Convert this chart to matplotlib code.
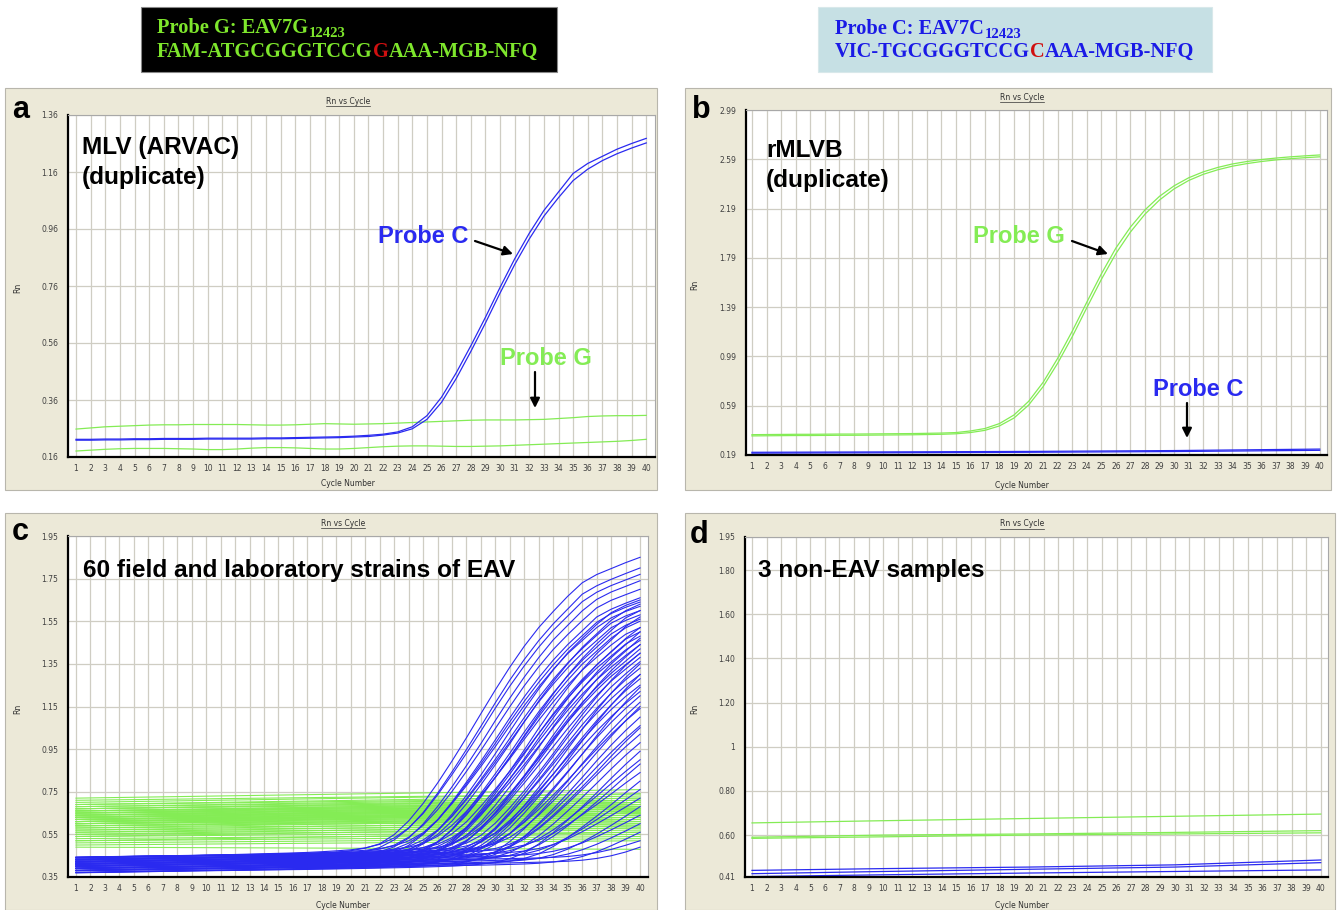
import numpy as np
import matplotlib.pyplot as plt
from matplotlib.patches import Rectangle

# 画布像素尺寸
W, H = 1341, 910
cycles = np.arange(1, 41)

# ---------------- 面板 a: MLV (ARVAC) ----------------
a_probeC_1 = [0.222, 0.222, 0.223, 0.223, 0.224, 0.224, 0.225, 0.225, 0.225, 0.226,
              0.226, 0.226, 0.226, 0.227, 0.227, 0.228, 0.229, 0.230, 0.231, 0.233,
              0.236, 0.240, 0.248, 0.266, 0.305, 0.370, 0.455, 0.550, 0.650, 0.755,
              0.855, 0.945, 1.025, 1.090, 1.155, 1.190, 1.215, 1.240, 1.260, 1.278]
a_probeC_2 = [0.219, 0.219, 0.220, 0.220, 0.221, 0.221, 0.222, 0.222, 0.222, 0.223,
              0.223, 0.223, 0.223, 0.224, 0.224, 0.225, 0.226, 0.227, 0.228, 0.230,
              0.232, 0.237, 0.244, 0.259, 0.292, 0.352, 0.435, 0.530, 0.630, 0.735,
              0.835, 0.925, 1.005, 1.070, 1.130, 1.170, 1.200, 1.224, 1.244, 1.262]
a_probeG_1 = [0.258, 0.262, 0.266, 0.268, 0.270, 0.272, 0.273, 0.273, 0.274, 0.274,
              0.274, 0.274, 0.273, 0.272, 0.272, 0.273, 0.275, 0.277, 0.276, 0.275,
              0.276, 0.277, 0.279, 0.281, 0.283, 0.285, 0.287, 0.289, 0.290, 0.290,
              0.290, 0.291, 0.292, 0.295, 0.298, 0.302, 0.304, 0.305, 0.305, 0.306]
a_probeG_2 = [0.181, 0.184, 0.187, 0.189, 0.190, 0.190, 0.190, 0.189, 0.188, 0.186,
              0.186, 0.188, 0.191, 0.193, 0.193, 0.192, 0.190, 0.188, 0.188, 0.190,
              0.193, 0.196, 0.198, 0.199, 0.199, 0.198, 0.197, 0.197, 0.198, 0.199,
              0.201, 0.203, 0.205, 0.207, 0.209, 0.211, 0.213, 0.215, 0.218, 0.222]
a_yticks = [0.16, 0.36, 0.56, 0.76, 0.96, 1.16, 1.36]

# ---------------- 面板 b: rMLVB ----------------
b_probeG_1 = [0.355, 0.356, 0.357, 0.358, 0.358, 0.359, 0.360, 0.360, 0.361, 0.362,
              0.363, 0.364, 0.366, 0.368, 0.372, 0.385, 0.405, 0.445, 0.515, 0.625,
              0.780, 0.975, 1.195, 1.430, 1.660, 1.870, 2.040, 2.180, 2.290, 2.375,
              2.440, 2.488, 2.524, 2.552, 2.572, 2.588, 2.600, 2.610, 2.618, 2.625]
b_probeG_2 = [0.345, 0.346, 0.347, 0.348, 0.348, 0.349, 0.350, 0.350, 0.351, 0.352,
              0.353, 0.354, 0.356, 0.358, 0.362, 0.372, 0.390, 0.426, 0.490, 0.595,
              0.745, 0.935, 1.150, 1.385, 1.615, 1.825, 2.000, 2.145, 2.260, 2.350,
              2.418, 2.468, 2.505, 2.534, 2.555, 2.572, 2.585, 2.595, 2.603, 2.610]
b_flat_cyc = [1, 10, 20, 30, 40]
b_probeC_1 = [0.205, 0.208, 0.212, 0.218, 0.228]
b_probeC_2 = [0.212, 0.215, 0.219, 0.226, 0.238]
b_yticks = [0.19, 0.59, 0.99, 1.39, 1.79, 2.19, 2.59, 2.99]

# ---------------- 面板 c: 60 株 ----------------
# 蓝色(Probe C)每条曲线: 起始基线, 中点循环数, 第40循环的值
c_blue_base = [0.43, 0.42, 0.44, 0.41, 0.43, 0.40, 0.42, 0.44, 0.39, 0.41,
               0.43, 0.38, 0.42, 0.40, 0.44, 0.41, 0.37, 0.43, 0.39, 0.42,
               0.40, 0.44, 0.38, 0.41, 0.43, 0.40, 0.42, 0.37, 0.44, 0.39,
               0.41, 0.43, 0.38, 0.42, 0.40, 0.44, 0.39, 0.41, 0.37, 0.43,
               0.42, 0.38, 0.40, 0.44, 0.41, 0.39, 0.43, 0.37, 0.42, 0.40,
               0.44, 0.38, 0.41, 0.43, 0.39, 0.42, 0.40, 0.38, 0.41, 0.39]
c_blue_ct = [29.5, 29.8, 30.0, 30.3, 30.6, 30.8, 31.0, 31.2, 31.4, 31.6,
             31.8, 32.0, 32.1, 32.3, 32.5, 32.6, 32.8, 33.0, 33.1, 33.3,
             33.4, 33.6, 33.8, 33.9, 34.1, 34.2, 34.4, 34.6, 34.7, 34.9,
             35.0, 35.2, 35.4, 35.5, 35.7, 35.9, 36.0, 36.2, 36.4, 36.6,
             36.8, 37.0, 37.2, 37.4, 37.6, 37.8, 38.0, 38.2, 38.5, 38.8,
             39.0, 39.3, 39.6, 40.0, 40.5, 41.0, 41.5, 42.0, 43.0, 44.0]
c_blue_top = [1.85, 1.80, 1.77, 1.74, 1.70, 1.66, 1.64, 1.62, 1.65, 1.60,
              1.58, 1.56, 1.63, 1.55, 1.52, 1.60, 1.50, 1.48, 1.57, 1.46,
              1.52, 1.44, 1.42, 1.50, 1.40, 1.47, 1.38, 1.36, 1.44, 1.33,
              1.30, 1.40, 1.28, 1.25, 1.35, 1.22, 1.20, 1.30, 1.17, 1.14,
              1.24, 1.10, 1.06, 1.15, 1.02, 0.98, 1.05, 0.94, 0.90, 0.88,
              0.84, 0.80, 0.76, 0.72, 0.68, 0.64, 0.60, 0.56, 0.52, 0.49]
C_DRIFT = 0.03      # 基线整体缓慢上升
C_STRETCH = 1.25    # 面板c曲线比面板a平缓一些
# 绿色(Probe G)每条线: 第1循环和第40循环的值
c_green_start = [0.72, 0.71, 0.70, 0.69, 0.69, 0.68, 0.68, 0.67, 0.67, 0.66,
                 0.66, 0.66, 0.65, 0.65, 0.65, 0.64, 0.64, 0.64, 0.64, 0.63,
                 0.63, 0.63, 0.63, 0.62, 0.62, 0.62, 0.62, 0.61, 0.61, 0.61,
                 0.61, 0.60, 0.60, 0.60, 0.60, 0.59, 0.59, 0.59, 0.58, 0.58,
                 0.57, 0.57, 0.56, 0.56, 0.55, 0.55, 0.54, 0.54, 0.53, 0.52,
                 0.52, 0.51, 0.50, 0.49, 0.66, 0.65, 0.63, 0.62, 0.61, 0.67]
c_green_end = [0.76, 0.74, 0.74, 0.72, 0.73, 0.71, 0.72, 0.70, 0.71, 0.69,
               0.70, 0.68, 0.69, 0.67, 0.70, 0.66, 0.68, 0.67, 0.69, 0.65,
               0.67, 0.66, 0.68, 0.64, 0.66, 0.65, 0.67, 0.63, 0.65, 0.64,
               0.66, 0.62, 0.64, 0.63, 0.65, 0.61, 0.63, 0.62, 0.60, 0.62,
               0.59, 0.61, 0.58, 0.60, 0.57, 0.59, 0.56, 0.58, 0.55, 0.54,
               0.56, 0.53, 0.52, 0.48, 0.70, 0.68, 0.67, 0.65, 0.65, 0.71]
c_yticks = [0.35, 0.55, 0.75, 0.95, 1.15, 1.35, 1.55, 1.75, 1.95]

# ---------------- 面板 d: 3 个非EAV样本 ----------------
d_cyc = [1, 10, 20, 30, 40]
d_green = [[0.655, 0.665, 0.675, 0.685, 0.695],
           [0.590, 0.600, 0.605, 0.612, 0.620],
           [0.585, 0.592, 0.600, 0.605, 0.610]]
d_blue = [[0.440, 0.448, 0.455, 0.465, 0.487],
          [0.425, 0.435, 0.445, 0.455, 0.475],
          [0.412, 0.420, 0.428, 0.435, 0.442]]
d_yticks = [0.41, 0.60, 0.80, 1.00, 1.20, 1.40, 1.60, 1.80, 1.95]
d_ylabels = ['0.41', '0.60', '0.80', '1', '1.20', '1.40', '1.60', '1.80', '1.95']

BLUE = '#2a2af0'
GREEN = '#84ec55'
BEIGE = '#ece9d8'
GRID = '#cfcdc3'

fig = plt.figure(figsize=(W / 100, H / 100), dpi=100, facecolor='white')

# 背景层(像素坐标)
ax_bg = fig.add_axes([0, 0, 1, 1], zorder=-5)
ax_bg.set_xlim(0, W)
ax_bg.set_ylim(H, 0)
ax_bg.axis('off')
for (l, t, r, b) in [(5, 88, 657, 490), (685, 88, 1331, 490),
                     (5, 513, 657, 910), (685, 513, 1335, 910)]:
    ax_bg.add_patch(Rectangle((l, t), r - l, b - t, facecolor=BEIGE,
                              edgecolor='#b8b6ac', lw=0.8))
ax_bg.add_patch(Rectangle((141, 7), 416, 65, facecolor='black', edgecolor='#888888', lw=0.8))
ax_bg.add_patch(Rectangle((818, 7), 394, 65, facecolor='#c6e0e4', edgecolor='#d8e8ea', lw=0.8))

# 顶层(像素坐标), 放文字和箭头
ax_top = fig.add_axes([0, 0, 1, 1], zorder=10)
ax_top.set_xlim(0, W)
ax_top.set_ylim(H, 0)
ax_top.axis('off')


def panel(rect, xlim, yticks, ylabels=None):
    l, t, r, b = rect
    ax = fig.add_axes([l / W, 1 - b / H, (r - l) / W, (b - t) / H])
    ax.set_xlim(xlim)
    ax.set_ylim(yticks[0], yticks[-1])
    ax.set_xticks(cycles)
    ax.set_xticklabels([str(c) for c in cycles])
    ax.set_yticks(yticks)
    ax.set_yticklabels(ylabels if ylabels else ['%.2f' % v for v in yticks])
    ax.tick_params(length=0, labelsize=5.5, labelcolor='#404040')
    ax.tick_params(axis='x', pad=5)
    ax.tick_params(axis='y', pad=7)
    ax.grid(True, color=GRID, lw=0.9)
    ax.set_axisbelow(True)
    for s in ['left', 'bottom']:
        ax.spines[s].set_color('black')
        ax.spines[s].set_linewidth(1.6)
    for s in ['top', 'right']:
        ax.spines[s].set_color('#a8a8a8')
        ax.spines[s].set_linewidth(0.8)
    return ax


# 面板 a
ax_a = panel((68, 115, 655, 457), (0.45, 40.6), a_yticks)
ax_a.plot(cycles, a_probeG_1, color=GREEN, lw=0.9)
ax_a.plot(cycles, a_probeG_2, color=GREEN, lw=0.9)
ax_a.plot(cycles, a_probeC_1, color=BLUE, lw=0.9)
ax_a.plot(cycles, a_probeC_2, color=BLUE, lw=0.9)

# 面板 b
ax_b = panel((746, 110, 1327, 455), (0.59, 40.5), b_yticks)
ax_b.plot(cycles, b_probeG_1, color=GREEN, lw=0.9)
ax_b.plot(cycles, b_probeG_2, color=GREEN, lw=0.9)
ax_b.plot(b_flat_cyc, b_probeC_1, color=BLUE, lw=0.9)
ax_b.plot(b_flat_cyc, b_probeC_2, color=BLUE, lw=0.9)

# 面板 c
ax_c = panel((68, 536, 648, 877), (0.45, 40.55), c_yticks)
tmpl = (np.array(a_probeC_1) - a_probeC_1[0]) / (a_probeC_1[-1] - a_probeC_1[0])
for g0, g1 in zip(c_green_start, c_green_end):
    ax_c.plot([1, 40], [g0, g1], color=GREEN, lw=0.8)
for base0, ct, top in zip(c_blue_base, c_blue_ct, c_blue_top):
    base = base0 + C_DRIFT * (cycles - 1) / 39
    s = np.interp((cycles - ct) / C_STRETCH + 30, cycles, tmpl)
    ax_c.plot(cycles, base + (top - base[-1]) * s / s[-1], color=BLUE, lw=0.8)

# 面板 d
ax_d = panel((745, 537, 1328, 877), (0.52, 40.5), d_yticks, d_ylabels)
for g in d_green:
    ax_d.plot(d_cyc, g, color=GREEN, lw=0.9)
for bl in d_blue:
    ax_d.plot(d_cyc, bl, color=BLUE, lw=0.9)

# 面板标题/坐标轴名称
titles = []
for x, yt, yc, xr, yr in [(348, 101, 484, 18, 288), (1022, 97, 486, 695, 285),
                          (343, 523, 906, 18, 709), (1022, 524, 905, 695, 709)]:
    titles.append(ax_top.text(x, yt, 'Rn vs Cycle', fontsize=5.5, color='#303030',
                              ha='center', va='center'))
    ax_top.text(x, yc, 'Cycle Number', fontsize=5.5, color='#303030', ha='center', va='center')
    ax_top.text(xr, yr, 'Rn', fontsize=5.5, color='#303030', ha='center', va='center',
                rotation=90)

# 面板字母
for x, y, s in [(12, 118, 'a'), (692, 118, 'b'), (12, 540, 'c'), (690, 543, 'd')]:
    ax_top.text(x, y, s, fontsize=22, fontweight='bold', family='Liberation Sans',
                va='baseline', ha='left')

big = dict(fontsize=17.6, fontweight='bold', family='Liberation Sans', va='baseline', ha='left')
ax_top.text(82, 154, 'MLV (ARVAC)', **big)
ax_top.text(82, 184, '(duplicate)', **big)
ax_top.text(766, 157, 'rMLVB', **big)
ax_top.text(766, 187, '(duplicate)', **big)
ax_top.text(83, 577, '60 field and laboratory strains of EAV', **big)
ax_top.text(758, 577, '3 non-EAV samples', **big)

lab = dict(fontsize=17, fontweight='bold', family='Liberation Sans', va='baseline', ha='left')
ax_top.text(378, 243, 'Probe C', color=BLUE, **lab)
ax_top.text(500, 365, 'Probe G', color=GREEN, **lab)
ax_top.text(973, 243, 'Probe G', color=GREEN, **lab)
ax_top.text(1153, 396, 'Probe C', color=BLUE, **lab)

arr = dict(arrowstyle='-|>', color='black', lw=1.6, mutation_scale=14, shrinkA=0, shrinkB=0)
for tail, head in [((475, 241), (513, 254)), ((535, 372), (535, 408)),
                   ((1072, 241), (1108, 254)), ((1187, 403), (1187, 438))]:
    ax_top.annotate('', xy=head, xytext=tail, arrowprops=arr)

# 顶部探针序列框
serif = dict(family='Liberation Serif', fontweight='bold')


def chain(x, y, parts, size, color):
    prev = ax_top.text(x, y, parts[0][0], fontsize=size, color=parts[0][1] or color,
                       va='baseline', ha='left', **serif)
    for s, c, sub in parts[1:]:
        prev = ax_top.annotate(s, xy=(1, 0), xycoords=prev, va='bottom', ha='left',
                               xytext=(0.5, -1.5) if sub else (0, 0), textcoords='offset points',
                               fontsize=size * 0.72 if sub else size, color=c or color, **serif)


G_TXT = '#7ee62c'
C_TXT = '#1a1ae6'
chain(157, 33, [('Probe G: EAV7G', None), ('12423', None, True)], 14.7, G_TXT)
chain(157, 57, [('FAM-ATGCGGGTCCG', None), ('G', '#d01010', False),
                ('AAA-MGB-NFQ', None, False)], 14.7, G_TXT)
chain(835, 34, [('Probe C: EAV7C', None), ('12423', None, True)], 14.7, C_TXT)
chain(835, 57, [('VIC-TGCGGGTCCG', None), ('C', '#d01010', False),
                ('AAA-MGB-NFQ', None, False)], 14.7, C_TXT)

# "Rn vs Cycle" 下划线
fig.canvas.draw()
for t in titles:
    bb = t.get_window_extent()
    ax_top.plot([bb.x0, bb.x1], [H - bb.y0 + 0.5, H - bb.y0 + 0.5], color='#303030', lw=0.5)

fig.savefig('out.png', dpi=100, facecolor='white')
